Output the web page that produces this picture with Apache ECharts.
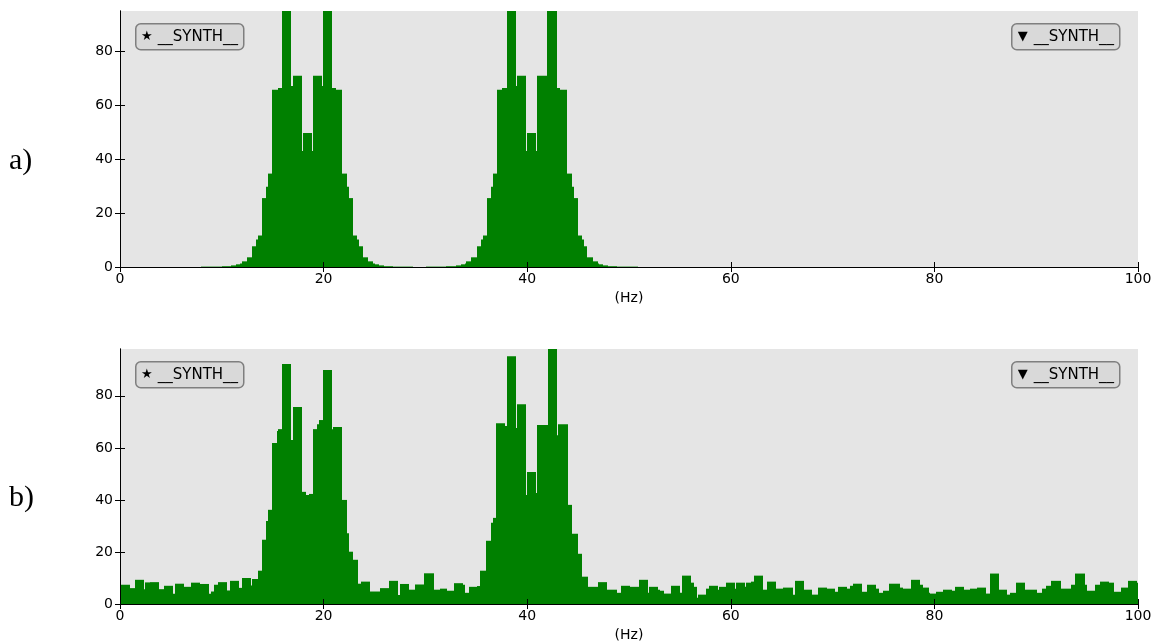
<!DOCTYPE html>
<html><head><meta charset="utf-8">
<script src="https://cdn.jsdelivr.net/npm/echarts@6/dist/echarts.min.js"></script>
<style>html,body{margin:0;padding:0;background:#fff}#c{width:1159px;height:644px}</style>
</head><body><div id="c"></div><script>
// ---- data ----
const xTicks = [0, 20, 40, 60, 80, 100];
const yTicks = [0, 20, 40, 60, 80];
const xLabel = '(Hz)';
const panelLabels = ['a)', 'b)'];
const legendLeft = '__SYNTH__';
const legendRight = '__SYNTH__';

// panel a) : bin edges (Hz) and heights
const topEdges = [0, 8.0, 10.0, 10.9, 11.4, 11.8, 11.95, 12.45, 12.95, 13.35, 13.55, 13.95, 14.35, 14.55, 14.95, 15.5, 15.9, 16.8, 17.0, 17.9, 18.0, 18.85, 18.95, 19.85, 19.95, 20.85, 21.2, 21.8, 22.3, 22.5, 22.9, 23.3, 23.5, 23.85, 24.35, 24.85, 25.0, 25.4, 25.9, 26.8, 28.8,
  30.07, 32.07, 32.97, 33.47, 33.87, 34.02, 34.52, 35.02, 35.42, 35.62, 36.02, 36.42, 36.62, 37.0, 37.56, 38.02, 38.92, 39.04, 39.93, 40.02, 40.9, 41.0, 41.9, 41.99, 42.88, 43.26, 43.92, 44.37, 44.57, 44.97, 45.37, 45.57, 45.92, 46.42, 46.92, 47.07, 47.47, 47.97, 48.87, 50.87, 100];
const topValues = [0, 0.15, 0.3, 0.6, 1.0, 1.3, 2.1, 3.6, 7.7, 10.2, 11.7, 25.6, 29.8, 34.7, 65.8, 66.5, 120, 67.2, 71, 43.1, 49.8, 43.1, 71, 67.2, 120, 66.5, 65.8, 34.7, 29.8, 25.6, 11.7, 10.2, 7.7, 3.6, 2.1, 1.3, 1.0, 0.6, 0.3, 0.15,
  0, 0.15, 0.3, 0.6, 1.0, 1.3, 2.1, 3.6, 7.7, 10.2, 11.7, 25.6, 29.8, 34.7, 65.8, 66.5, 120, 67.2, 71, 43.1, 49.8, 43.1, 71, 67.2, 120, 66.5, 65.8, 34.7, 29.8, 25.6, 11.7, 10.2, 7.7, 3.6, 2.1, 1.3, 1.0, 0.6, 0.3, 0.15, 0];

// panel b) : bin edges (Hz) and heights
const botEdges = [0, 0.98, 1.47, 2.36, 2.46, 2.95, 3.83, 4.33, 5.21, 5.41, 6.29, 6.98, 7.87, 8.75, 8.95, 9.24, 9.64, 10.52, 10.82, 11.70, 12.0, 12.88, 12.98, 13.57, 13.96, 14.36, 14.55, 14.95, 15.43, 15.53, 15.93, 16.81, 17.01, 17.89, 18.28, 18.58, 18.98, 19.37, 19.57, 19.96, 20.84, 20.94, 21.83, 22.32, 22.52, 22.91, 23.4, 23.7, 24.58, 25.58, 26.45, 27.35, 27.55, 28.4, 29.0, 29.9, 30.8, 31.47, 32.15, 32.84, 33.73, 33.92, 34.32, 35.10, 35.40, 35.99, 36.48, 36.68, 36.97, 37.86, 38.05, 38.94, 39.04, 39.93, 40.02, 40.91, 41.01, 42.0, 42.88, 43.07, 43.96, 44.36, 44.95, 45.34, 45.93, 46.91, 47.79, 48.87, 49.17, 50.05, 50.94, 51.82, 51.92, 52.80, 53.0, 53.39, 54.08, 54.97, 55.16, 56.05, 56.34, 56.64, 56.74, 57.52, 57.82, 58.71, 58.81, 59.49, 60.38, 60.48, 61.36, 61.46, 61.95, 62.24, 63.13, 63.52, 64.41, 65.10, 66.08, 66.28, 67.16, 67.95, 68.54, 69.42, 70.21, 70.51, 71.39, 71.69, 71.98, 72.87, 73.36, 74.25, 74.54, 74.93, 75.52, 76.6, 76.9, 77.68, 78.56, 78.86, 79.45, 79.55, 80.14, 80.82, 81.71, 82.0, 82.89, 83.48, 84.17, 85.05, 85.45, 86.33, 87.12, 87.42, 88.0, 88.89, 89.18, 90.07, 90.56, 90.95, 91.45, 92.43, 93.42, 93.81, 94.80, 95.0, 95.78, 96.27, 97.16, 97.65, 98.34, 99.03, 99.91, 100];
const botValues = [7.4, 6.1, 9.3, 5.7, 8.3, 8.4, 5.7, 7.0, 3.9, 7.8, 6.6, 8.2, 7.7, 3.9, 4.8, 7.4, 8.4, 5.2, 8.9, 6.2, 10.0, 7.1, 9.6, 12.8, 24.7, 31.9, 36.2, 61.9, 66.5, 67.2, 92.2, 63.0, 75.7, 43.1, 41.9, 42.3, 67.2, 69.1, 70.7, 89.9, 67.2, 68.0, 40.0, 27.2, 20.1, 17.0, 7.8, 8.6, 4.8, 6.1, 8.9, 3.5, 7.7, 5.5, 7.5, 11.8, 5.5, 5.9, 5.1, 8.0, 7.4, 4.3, 6.6, 6.9, 12.8, 24.3, 31.2, 33.1, 69.5, 68.4, 95.2, 67.6, 76.8, 41.9, 50.7, 42.7, 68.8, 98, 64.9, 69.1, 38.1, 27.0, 19.3, 10.5, 6.6, 8.4, 5.5, 4.3, 7.0, 6.6, 9.3, 4.3, 6.6, 5.5, 5.1, 4.0, 7.0, 4.3, 10.9, 8.2, 6.6, 2.4, 3.6, 5.9, 7.0, 5.5, 6.6, 8.2, 5.9, 8.2, 6.6, 8.2, 8.6, 10.9, 5.5, 8.6, 5.9, 6.3, 3.6, 8.9, 5.5, 3.6, 6.3, 5.9, 4.7, 6.6, 5.9, 7.0, 7.8, 4.7, 7.4, 5.9, 4.3, 5.1, 7.8, 6.3, 5.9, 9.3, 7.4, 6.3, 4.3, 4.0, 4.7, 5.5, 5.1, 6.6, 5.5, 5.9, 6.3, 4.0, 11.7, 5.5, 3.6, 4.3, 8.2, 5.5, 5.5, 4.3, 5.9, 7.0, 8.9, 5.9, 7.4, 11.7, 7.4, 5.1, 7.4, 8.6, 8.2, 4.7, 6.3, 8.9, 8.2];

const topYMax = 95.1;
const botYMax = 98;

// ---- build ----
function bins(edges, values) {
  const out = [];
  const n = Math.min(values.length, edges.length - 1);
  for (let i = 0; i < n; i++) if (values[i] > 0) out.push([edges[i], edges[i + 1], values[i]]);
  return out;
}
function renderBin(params, api) {
  const p0 = api.coord([api.value(0), 0]);
  const p1 = api.coord([api.value(1), api.value(2)]);
  const cs = params.coordSys;
  const top = Math.max(p1[1], cs.y);
  const xa = Math.round(p0[0]), xb = Math.round(p1[0]);
  return { type: 'rect', shape: { x: xa, y: top, width: Math.max(xb - xa, 1), height: p0[1] - top },
           style: { fill: '#008000', stroke: null, lineWidth: 0 } };
}
const FONT = 'DejaVu Sans';
const grids = [
  { left: 120, top: 11, width: 1018, height: 256 },
  { left: 120, top: 349, width: 1018, height: 255 }
];
const yMaxes = [topYMax, botYMax];
const xAxes = [], yAxes = [];
grids.forEach((g, i) => {
  g.show = true; g.backgroundColor = '#e5e5e5'; g.borderWidth = 0;
  const line = { show: true, lineStyle: { color: '#000', width: 1 } };
  const xtick = { show: true, inside: true, length: 5, lineStyle: { color: '#000', width: 1 } };
  const ytick = { show: true, inside: true, length: 5, customValues: yTicks, lineStyle: { color: '#000', width: 1 } };
  xAxes.push({ gridIndex: i, type: 'value', position: 'bottom', min: xTicks[0], max: xTicks[xTicks.length - 1], interval: 20,
    axisLine: line, axisTick: xtick, splitLine: { show: false }, z: 10,
    axisLabel: { color: '#000', fontSize: 14, fontFamily: FONT, margin: 5 },
    name: xLabel, nameLocation: 'middle', nameGap: 24, nameTextStyle: { color: '#000', fontSize: 14, fontFamily: FONT } });
  xAxes.push({ gridIndex: i, type: 'value', position: 'top', min: 0, max: 100, interval: 20,
    axisLine: line, axisTick: xtick, splitLine: { show: false }, axisLabel: { show: false }, z: 10 });
  yAxes.push({ gridIndex: i, type: 'value', position: 'left', min: 0, max: yMaxes[i], interval: 20,
    axisLine: line, axisTick: ytick, splitLine: { show: false }, z: 10,
    axisLabel: { color: '#000', fontSize: 14, fontFamily: FONT, margin: 7, customValues: yTicks,
      formatter: v => String(v) } });
  yAxes.push({ gridIndex: i, type: 'value', position: 'right', min: 0, max: yMaxes[i], interval: 20,
    axisLine: line, axisTick: ytick, splitLine: { show: false }, axisLabel: { show: false }, z: 10 });
});

function legendBox(x, y, sym, label) {
  return { type: 'group', left: x, top: y, z: 20, children: [
    { type: 'rect', shape: { x: 0, y: 0, width: 108, height: 26, r: 5 },
      style: { fill: '#d9d9d9', stroke: '#7f7f7f', lineWidth: 1.5 } },
    { type: 'text', x: 11, y: 13, style: { text: sym, fontSize: 13, fontFamily: FONT, fill: '#000', align: 'center', verticalAlign: 'middle' } },
    { type: 'text', x: 22, y: 13, style: { text: label, fontSize: 15, fontFamily: FONT, fill: '#000', align: 'left', verticalAlign: 'middle' } }
  ]};
}

const option = {
  animation: false,
  grid: grids,
  xAxis: xAxes,
  yAxis: yAxes,
  series: [
    { type: 'custom', xAxisIndex: 0, yAxisIndex: 0, renderItem: renderBin, clip: true,
      encode: { x: [0, 1], y: 2 }, data: bins(topEdges, topValues) },
    { type: 'custom', xAxisIndex: 2, yAxisIndex: 2, renderItem: renderBin, clip: true,
      encode: { x: [0, 1], y: 2 }, data: bins(botEdges, botValues) }
  ],
  graphic: [
    { type: 'text', left: 9, top: 146, style: { text: panelLabels[0], fontSize: 30, fontFamily: 'Liberation Serif', fill: '#000' } },
    { type: 'text', left: 9, top: 483, style: { text: panelLabels[1], fontSize: 30, fontFamily: 'Liberation Serif', fill: '#000' } },
    legendBox(135, 23, '★', legendLeft),
    legendBox(1011, 23, '▼', legendRight),
    legendBox(135, 361, '★', legendLeft),
    legendBox(1011, 361, '▼', legendRight)
  ]
};
const chart = echarts.init(document.getElementById('c'), null, { renderer: 'canvas' });
chart.setOption(option);
</script></body></html>
